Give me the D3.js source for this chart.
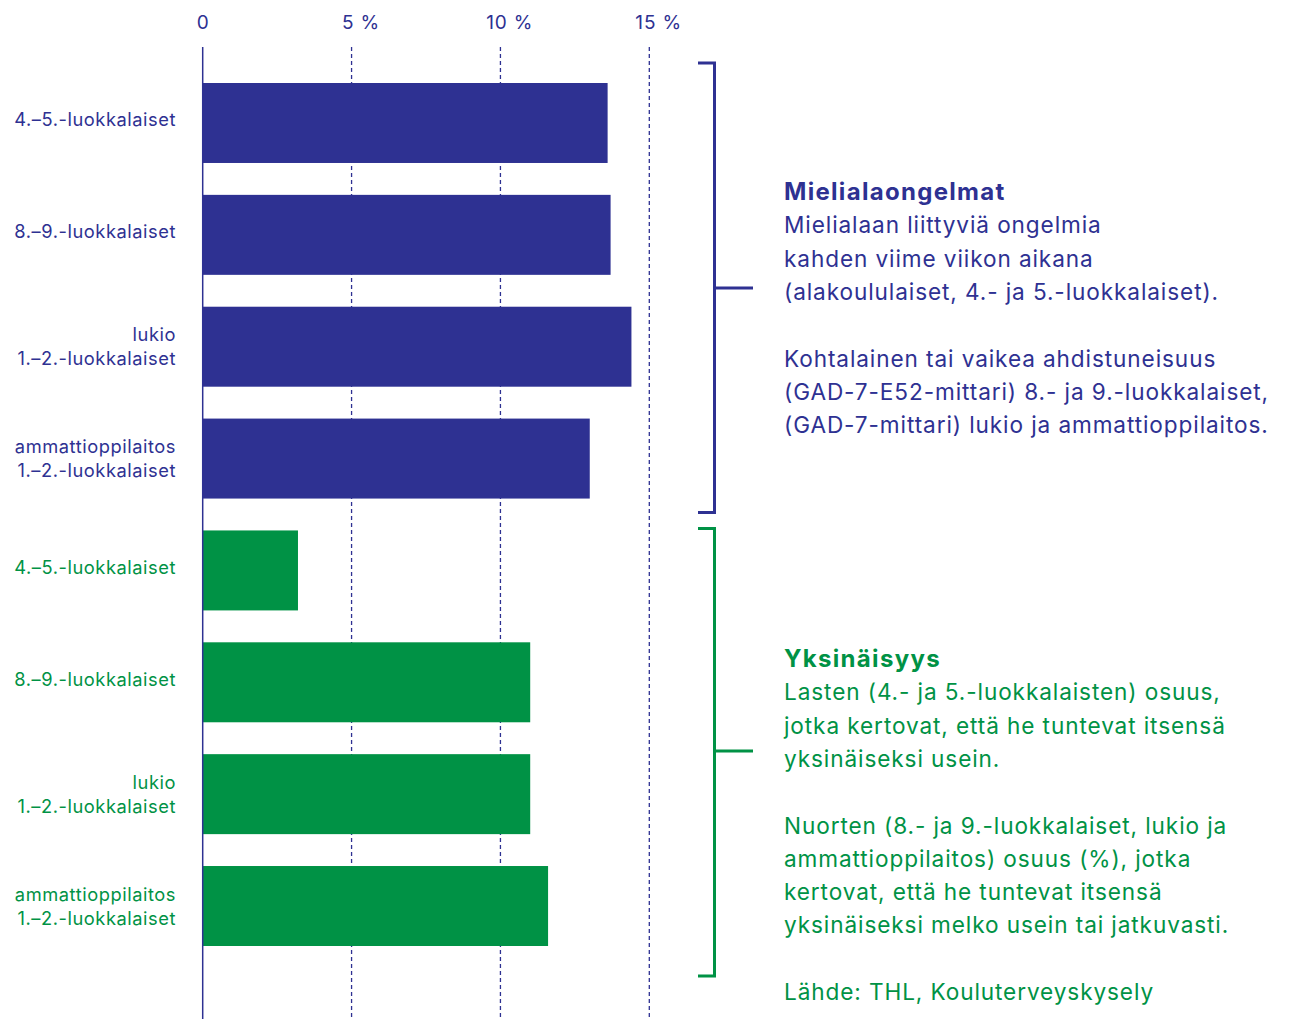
<!DOCTYPE html>
<html><head><meta charset="utf-8">
<script src="https://cdn.jsdelivr.net/npm/d3@7"></script>
<style>body{margin:0;background:#fff}svg{display:block;font-family:Inter,"Noto Sans",sans-serif}</style>
</head><body><svg id="c" width="1290" height="1019"></svg>
<script>
const categories = [
  ["4.–5.-luokkalaiset"],
  ["8.–9.-luokkalaiset"],
  ["lukio","1.–2.-luokkalaiset"],
  ["ammattioppilaitos","1.–2.-luokkalaiset"]
];
const groups = ["Mielialaongelmat","Yksinäisyys"];
const moodValues = [13.6, 13.7, 14.4, 13.0];
const lonelyValues = [3.2, 11.0, 11.0, 11.6];
const tickValues = [0, 5, 10, 15];
const tickLabels = ["0", "5", "10", "15"];
const tickSuffix = ["", " %", " %", " %"];
const colors = ["#2e3192", "#009245"];
const moodText = ["Mielialaan liittyviä ongelmia","kahden viime viikon aikana","(alakoululaiset, 4.- ja 5.-luokkalaiset).","","Kohtalainen tai vaikea ahdistuneisuus","(GAD-7-E52-mittari) 8.- ja 9.-luokkalaiset,","(GAD-7-mittari) lukio ja ammattioppilaitos."];
const lonelyText = ["Lasten (4.- ja 5.-luokkalaisten) osuus,","jotka kertovat, että he tuntevat itsensä","yksinäiseksi usein.","","Nuorten (8.- ja 9.-luokkalaiset, lukio ja","ammattioppilaitos) osuus (%), jotka","kertovat, että he tuntevat itsensä","yksinäiseksi melko usein tai jatkuvasti.","","Lähde: THL, Kouluterveyskysely"];

const rows = [];
groups.forEach((g, gi) => {
  const vals = gi === 0 ? moodValues : lonelyValues;
  categories.forEach((c, ci) => rows.push({key: g + ci, label: c, value: vals[ci], group: gi}));
});

const svg = d3.select("#c");
const x = d3.scaleLinear().domain([0, 15]).range([202.7, 649.3]);
const y = d3.scaleBand().domain(rows.map(r => r.key)).range([83, 946]).paddingInner(0.285).paddingOuter(0);

// gridlines
svg.append("g").selectAll("line").data(tickValues.filter(t => t > 0)).join("line")
  .attr("x1", d => x(d)).attr("x2", d => x(d)).attr("y1", 47).attr("y2", 1019)
  .attr("stroke", colors[0]).attr("stroke-width", 1.3).attr("stroke-dasharray", "4,3");

// bars
svg.append("g").selectAll("rect").data(rows).join("rect")
  .attr("x", x(0)).attr("y", d => y(d.key)).attr("width", d => x(d.value) - x(0))
  .attr("height", y.bandwidth()).attr("fill", d => colors[d.group]);

// zero axis line
svg.append("line").attr("x1", x(0)).attr("x2", x(0)).attr("y1", 47).attr("y2", 1019)
  .attr("stroke", colors[0]).attr("stroke-width", 1.5);

// tick labels: number roughly centred on the tick, suffix trailing
const ax = svg.append("g").attr("transform", "translate(0,29)")
  .call(d3.axisTop(x).tickValues(tickValues).tickFormat((d, i) => tickLabels[i]).tickSize(0).tickPadding(0));
ax.select(".domain").remove();
ax.selectAll("text").attr("fill", colors[0]).attr("font-size", 19).attr("letter-spacing", 0.8)
  .attr("font-family", "Inter, sans-serif").attr("text-anchor", "start")
  .each(function(d, i) {
    const w = this.getComputedTextLength();
    d3.select(this).attr("x", -w / 2 - (i === 0 ? 0 : 4)).append("tspan").text(tickSuffix[i]);
  });

// category labels
const lab = svg.append("g").selectAll("text").data(rows).join("text")
  .attr("text-anchor", "end").attr("font-size", 18.3).attr("letter-spacing", 0.55)
  .attr("fill", d => colors[d.group]).attr("x", 176);
lab.each(function(d) {
  const t = d3.select(this);
  const cy = y(d.key) + y.bandwidth() / 2;
  const n = d.label.length;
  const off = n === 1 ? 3.5 : 6.5;
  d.label.forEach((s, i) => {
    t.append("tspan").attr("x", 176).attr("y", cy + (i - (n - 1) / 2) * 24 + off).text(s);
  });
});

// brackets
[0, 1].forEach(gi => {
  const keys = rows.filter(r => r.group === gi).map(r => r.key);
  const yTop = y(keys[0]), yBot = y(keys[keys.length - 1]) + y.bandwidth();
  const top = gi === 0 ? yTop - 20 : yTop - 2;
  const bot = gi === 0 ? yBot + 14 : yBot + 30;
  const mid = gi === 0 ? 288 : 751;
  const g = svg.append("g").attr("stroke", colors[gi]).attr("stroke-width", 3).attr("fill", "none");
  g.append("path").attr("d", `M698,${top}H714.5V${bot}H698`);
  g.append("line").attr("x1", 714.5).attr("x2", 753).attr("y1", mid).attr("y2", mid);
});

// annotations
function block(title, lines, color, titleY) {
  const t = svg.append("text").attr("fill", color).attr("font-size", 22.6).attr("letter-spacing", 0.9);
  t.append("tspan").attr("x", 784).attr("y", titleY).attr("font-weight", 700).attr("font-size", 24)
    .attr("letter-spacing", 1.3).text(title);
  lines.forEach((l, i) => {
    t.append("tspan").attr("x", 784).attr("y", titleY + 33.3 * (i + 1)).text(l === "" ? "\u00a0" : l);
  });
}
block(groups[0], moodText, colors[0], 200);
block(groups[1], lonelyText, colors[1], 667);
</script></body></html>
